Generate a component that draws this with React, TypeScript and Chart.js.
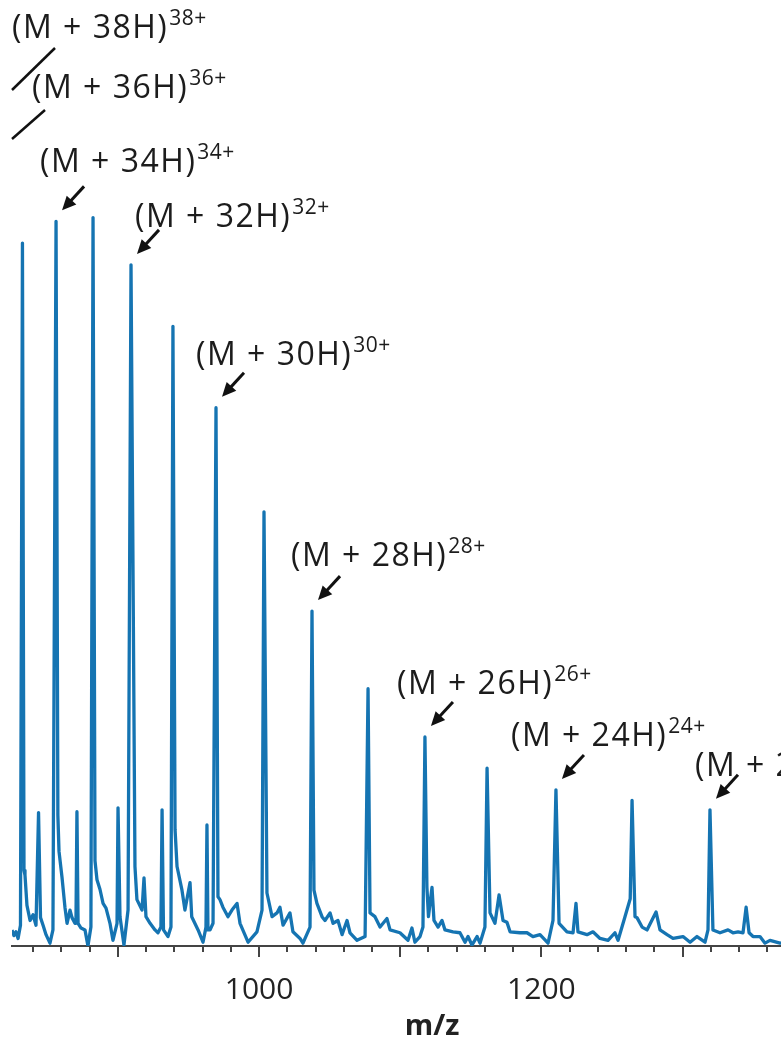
import React, { useEffect, useRef } from "react";
import { Chart, registerables } from "chart.js";

Chart.register(...registerables);

// Spectrum trace: m/z and relative intensity (%)
const mzValues: number[] = [
  825.0, 826.4, 827.8, 829.3, 831.0, 832.4, 833.5, 834.2, 835.6, 837.8, 839.9, 842.0, 843.8, 845.2, 847.0, 849.1,
  851.9, 854.0, 856.2, 857.5, 858.3, 860.4, 862.5, 864.0, 866.1, 867.5, 869.6, 870.3, 871.0, 871.8, 873.9, 876.7,
  878.8, 880.9, 882.4, 883.8, 885.2, 887.3, 889.5, 891.6, 894.4, 896.5, 899.4, 900.1, 901.5, 904.3, 907.2, 909.3,
  912.1, 913.5, 917.1, 918.5, 919.9, 922.8, 926.3, 928.4, 930.5, 931.3, 932.3, 935.5, 937.6, 939.0, 940.5, 941.9,
  945.4, 947.5, 951.1, 952.3, 956.8, 960.3, 962.4, 963.1, 963.8, 965.3, 967.4, 969.5, 970.9, 972.3, 974.4, 978.0,
  980.8, 984.4, 986.5, 992.2, 998.5, 1002.1, 1003.5, 1005.6, 1009.2, 1012.7, 1014.8, 1017.0, 1021.9, 1024.0, 1029.0, 1031.1,
  1036.1, 1037.5, 1038.9, 1041.0, 1044.6, 1046.7, 1050.3, 1052.4, 1055.9, 1058.8, 1062.3, 1064.4, 1069.4, 1075.1, 1077.2, 1078.6,
  1082.1, 1085.7, 1090.6, 1092.8, 1099.8, 1105.5, 1108.3, 1110.4, 1114.0, 1116.1, 1117.5, 1118.9, 1120.0, 1121.1, 1122.5, 1123.9,
  1126.8, 1129.6, 1131.7, 1137.4, 1142.3, 1145.9, 1148.0, 1150.8, 1154.4, 1156.5, 1160.0, 1161.5, 1163.6, 1167.1, 1170.0, 1172.8,
  1175.6, 1177.8, 1184.8, 1189.8, 1194.0, 1199.0, 1204.7, 1208.2, 1210.3, 1212.5, 1218.1, 1222.4, 1224.5, 1225.9, 1232.3, 1236.5,
  1241.5, 1247.2, 1252.1, 1254.3, 1259.2, 1262.9, 1264.2, 1266.3, 1267.7, 1271.3, 1274.8, 1281.2, 1284.0, 1289.0, 1293.2, 1300.3,
  1305.3, 1310.2, 1315.9, 1318.0, 1319.4, 1321.5, 1326.5, 1332.2, 1335.7, 1339.3, 1342.8, 1345.0, 1347.1, 1349.9, 1354.8, 1358.4,
  1361.9, 1369.0, 1376.1,
];

const intensityValues: number[] = [
  1.7, 1.1, 1.5, 0.8, 2.2, 74.3, 8.0, 7.5, 4.3, 2.7, 3.3, 2.2, 14.1, 3.0, 2.2, 1.2,
  0.3, 1.7, 76.6, 13.8, 10.0, 7.3, 4.1, 2.4, 3.8, 3.0, 2.4, 2.4, 14.2, 2.4, 1.9, 1.7,
  0.0, 2.0, 77.0, 9.0, 7.0, 6.0, 4.5, 4.0, 2.4, 0.6, 2.4, 14.6, 3.1, 0.1, 3.8, 72.0,
  8.4, 4.9, 3.8, 7.2, 3.1, 2.4, 1.7, 1.4, 2.0, 14.4, 1.7, 1.0, 2.0, 65.5, 12.3, 8.4,
  5.9, 3.8, 6.7, 3.1, 1.7, 0.4, 2.0, 12.8, 1.7, 1.7, 2.4, 56.9, 5.2, 4.9, 4.1, 3.1,
  3.8, 4.5, 2.4, 0.4, 1.5, 3.8, 45.9, 5.6, 3.1, 3.5, 4.1, 2.2, 3.5, 1.5, 0.8, 0.3,
  2.0, 35.4, 5.9, 4.5, 3.1, 2.7, 3.5, 2.4, 2.7, 1.2, 2.7, 1.4, 0.6, 1.0, 27.2, 3.5,
  3.1, 2.0, 2.9, 1.7, 1.4, 0.6, 1.9, 0.4, 1.0, 2.0, 22.1, 6.2, 3.1, 4.5, 6.2, 2.7,
  2.0, 2.7, 1.7, 1.5, 1.4, 0.4, 1.0, 0.1, 1.0, 0.3, 2.0, 18.8, 3.5, 2.4, 5.4, 2.7,
  2.5, 1.5, 1.4, 1.4, 1.0, 1.2, 0.3, 2.7, 16.5, 2.4, 1.5, 1.4, 4.5, 1.5, 1.2, 1.5,
  0.8, 0.6, 1.4, 0.6, 3.1, 5.0, 15.4, 3.1, 3.0, 2.0, 1.7, 3.6, 1.7, 1.2, 0.8, 1.0,
  0.4, 1.0, 0.4, 1.7, 14.4, 1.7, 1.4, 1.7, 1.4, 1.5, 1.4, 4.1, 1.4, 1.0, 1.0, 0.3,
  0.6, 0.3, 0.4,
];

// Labelled charge states and the m/z of the peak each arrow points at
const ionCharges: number[] = [34, 32, 30, 28, 26, 24, 22];
const ionPeakMz: number[] = [856.2, 909.3, 969.5, 1037.5, 1117.5, 1210.3, 1319.4];
// Charge states whose peaks lie left of the plotted range
const offChartCharges: number[] = [38, 36];

const xMin = 825;
const xMax = 1420;
const labelledTickStep = 200;

// ---- layout / style (not data) ----
const LINE_COLOR = "#1574b2";
const TEXT_COLOR = "#1c1c1c";
const FONT = '"Open Sans", "Noto Sans", sans-serif';
const MAIN_SIZE = 32;
const SUP_SIZE = 21;
const labelOffsets: [number, number][] = [
  [-16, -49], [4, -38], [-20, -43], [-21, -45], [-28, -43], [-45, -44], [-15, -34],
];
const offChartLabelPos: [number, number][] = [[12, 38], [32, 98]];
const offChartLeaders: [number, number, number, number][] = [[55, 48, 12, 90], [45, 110, 12, 139]];
const AXIS_HEIGHT = 95;

function drawIon(ctx: CanvasRenderingContext2D, x: number, baseline: number, n: number) {
  ctx.fillStyle = TEXT_COLOR;
  ctx.textAlign = "left";
  ctx.textBaseline = "alphabetic";
  ctx.font = `${MAIN_SIZE}px ${FONT}`;
  (ctx as any).letterSpacing = "1.5px";
  const main = `(M + ${n}H)`;
  ctx.fillText(main, x, baseline);
  const w = ctx.measureText(main).width;
  ctx.font = `${SUP_SIZE}px ${FONT}`;
  (ctx as any).letterSpacing = "0.5px";
  ctx.fillText(`${n}+`, x + w + 1, baseline - 13);
  (ctx as any).letterSpacing = "0px";
}

function drawArrow(ctx: CanvasRenderingContext2D, tx: number, ty: number) {
  const sx = tx + 22;
  const sy = ty - 24;
  const ang = Math.atan2(ty - sy, tx - sx);
  const headLen = 14;
  const headHalf = 6.5;
  const bx = tx - headLen * Math.cos(ang);
  const by = ty - headLen * Math.sin(ang);
  ctx.strokeStyle = "#111";
  ctx.fillStyle = "#111";
  ctx.lineWidth = 3;
  ctx.beginPath();
  ctx.moveTo(sx, sy);
  ctx.lineTo(bx + 2 * Math.cos(ang), by + 2 * Math.sin(ang));
  ctx.stroke();
  ctx.beginPath();
  ctx.moveTo(tx, ty);
  ctx.lineTo(bx + headHalf * Math.sin(ang), by - headHalf * Math.cos(ang));
  ctx.lineTo(bx - headHalf * Math.sin(ang), by + headHalf * Math.cos(ang));
  ctx.closePath();
  ctx.fill();
}

const annotationPlugin = {
  id: "ionAnnotations",
  afterDraw(chart: any) {
    const ctx: CanvasRenderingContext2D = chart.ctx;
    const xs = chart.scales.x;
    const ys = chart.scales.y;
    ctx.save();
    // tick marks: long at every 100, short at every 20
    ctx.strokeStyle = "#444";
    ctx.lineWidth = 2;
    for (const t of xs.ticks) {
      const v = t.value;
      if (Math.abs(v % 20) > 1e-6) continue;
      const px = Math.round(xs.getPixelForValue(v));
      const len = v % 100 === 0 ? 11 : 6;
      ctx.beginPath();
      ctx.moveTo(px, xs.top);
      ctx.lineTo(px, xs.top + len);
      ctx.stroke();
    }
    // off-chart charge states
    offChartCharges.forEach((n, i) => {
      const [lx, ly] = offChartLabelPos[i];
      drawIon(ctx, lx, ly, n);
      const [x1, y1, x2, y2] = offChartLeaders[i];
      ctx.strokeStyle = "#111";
      ctx.lineWidth = 2.5;
      ctx.beginPath();
      ctx.moveTo(x1, y1);
      ctx.lineTo(x2, y2);
      ctx.stroke();
    });
    // labelled peaks
    ionCharges.forEach((n, i) => {
      const mz = ionPeakMz[i];
      let best = 0;
      mzValues.forEach((m, k) => {
        if (Math.abs(m - mz) < 1.0 && intensityValues[k] > best) best = intensityValues[k];
      });
      const px = xs.getPixelForValue(mz);
      const py = ys.getPixelForValue(best);
      drawArrow(ctx, px + 6, py - 11);
      const [dx, dy] = labelOffsets[i];
      drawIon(ctx, px + dx, py + dy, n);
    });
    ctx.restore();
  },
};

export default function App() {
  const ref = useRef<HTMLCanvasElement | null>(null);
  useEffect(() => {
    document.body.style.margin = "0";
    const canvas = ref.current;
    if (!canvas) return;
    const points = mzValues.map((m, i) => ({ x: m, y: intensityValues[i] }));
    const chart = new Chart(canvas, {
      type: "line",
      data: {
        datasets: [
          {
            data: points,
            borderColor: LINE_COLOR,
            borderWidth: 3.3,
            pointRadius: 0,
            tension: 0,
            fill: false,
            borderJoinStyle: "round",
          } as any,
        ],
      },
      options: {
        responsive: false,
        animation: false,
        devicePixelRatio: 1,
        layout: { padding: { left: 12, right: 8, top: 0, bottom: 0 } },
        plugins: { legend: { display: false }, tooltip: { enabled: false } },
        scales: {
          x: {
            type: "linear",
            min: xMin,
            max: xMax,
            grid: { display: false },
            border: { display: true, color: "#444", width: 2 },
            afterFit: (scale: any) => {
              scale.paddingLeft = 0;
              scale.paddingRight = 0;
              scale.height = AXIS_HEIGHT;
            },
            ticks: {
              stepSize: 20,
              autoSkip: false,
              includeBounds: false,
              maxRotation: 0,
              callback: (v: any) => (Number(v) % labelledTickStep === 0 ? String(v) : ""),
              font: { family: FONT, size: 30, lineHeight: 1 },
              color: "#222",
              padding: 21,
            },
            title: {
              display: true,
              text: "m/z",
              color: "#222",
              font: { family: FONT, size: 29, weight: "bold", lineHeight: 1 },
              padding: { top: 0, bottom: 0 },
            },
          },
          y: { display: false, min: 0, max: 100 },
        },
      } as any,
      plugins: [annotationPlugin],
    });
    return () => chart.destroy();
  }, []);
  return (
    <div style={{ width: 781, height: 1041, overflow: "hidden", position: "relative", background: "#fff" }}>
      <canvas ref={ref} width={860} height={1041} style={{ display: "block" }} />
    </div>
  );
}
